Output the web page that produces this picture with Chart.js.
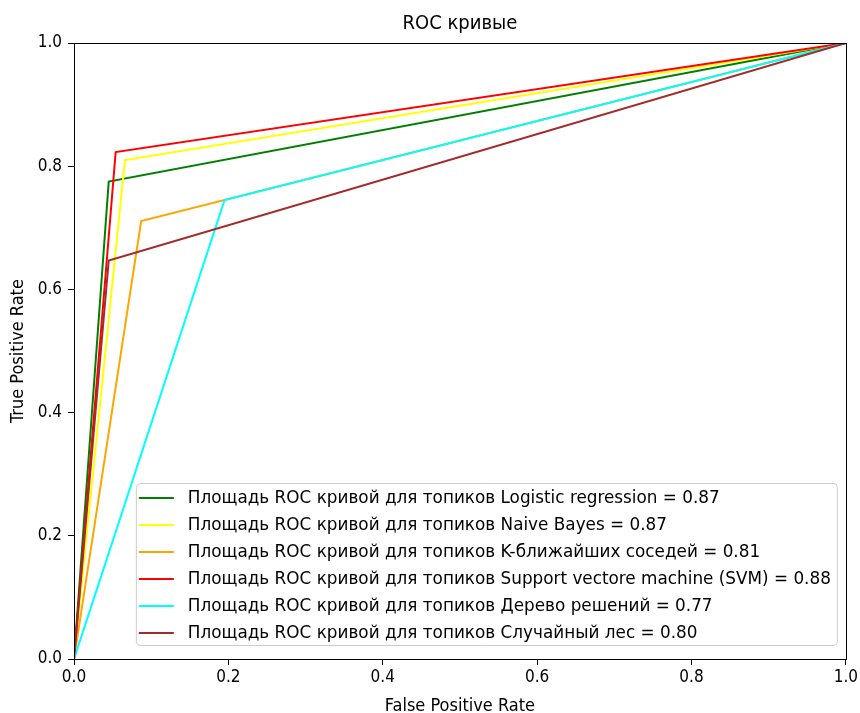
<!DOCTYPE html>
<html>
<head>
<meta charset="utf-8">
<script src="https://cdn.jsdelivr.net/npm/chart.js@4/dist/chart.umd.min.js"></script>
<style>
  body { margin: 0; background: #fff; }
  #wrap { width: 860px; height: 713px; }
</style>
</head>
<body>
<div id="wrap"><canvas id="roc"></canvas></div>
<script>
// model names and AUC values from the legend
const models = ["Logistic regression", "Naive Bayes", "K-ближайших соседей",
  "Support vectore machine (SVM)", "Дерево решений", "Случайный лес"];
const aucs = [0.87, 0.87, 0.81, 0.88, 0.77, 0.80];
const colors = ["#008000", "#ffff00", "#ffa500", "#ff0000", "#00ffff", "#a52a2a"];

// ROC points (fpr, tpr)
const fprLogReg = [0, 0.045, 1];
const tprLogReg = [0, 0.775, 1];
const fprBayes = [0, 0.066, 1];
const tprBayes = [0, 0.810, 1];
const fprKnn = [0, 0.087, 1];
const tprKnn = [0, 0.711, 1];
const fprSvm = [0, 0.054, 1];
const tprSvm = [0, 0.823, 1];
const fprTree = [0, 0.195, 1];
const tprTree = [0, 0.745, 1];
const fprForest = [0, 0.045, 1];
const tprForest = [0, 0.647, 1];

const fprs = [fprLogReg, fprBayes, fprKnn, fprSvm, fprTree, fprForest];
const tprs = [tprLogReg, tprBayes, tprKnn, tprSvm, tprTree, tprForest];

const FONT = "'DejaVu Sans Condensed', 'DejaVu Sans', sans-serif";

const datasets = models.map((m, i) => ({
  label: "Площадь ROC кривой для топиков " + m + " = " + aucs[i].toFixed(2),
  data: fprs[i].map((x, k) => ({ x: x, y: tprs[i][k] })),
  borderColor: colors[i],
  borderWidth: 2,
  pointRadius: 0,
  fill: false,
  tension: 0,
  order: models.length - i  // later series on top, like matplotlib
}));

// frame, title and legend box inside the plot (lower right)
const framePlugin = {
  id: "frame",
  afterDatasetsDraw(chart) {
    const ctx = chart.ctx, a = chart.chartArea;
    ctx.save();
    ctx.strokeStyle = "#000";
    ctx.lineWidth = 1;
    ctx.strokeRect(Math.round(a.left) + 0.5, Math.round(a.top) + 0.5,
      Math.round(a.right - a.left), Math.round(a.bottom - a.top));

    // title centred over the plot area
    ctx.fillStyle = "#000";
    ctx.font = "20px " + FONT;
    ctx.textAlign = "center";
    ctx.textBaseline = "alphabetic";
    ctx.fillText("ROC кривые", (a.left + a.right) / 2, a.top - 14);
    ctx.textAlign = "left";

    // legend
    const sets = chart.data.datasets;
    const right = a.right - 9, bottom = a.bottom - 14;
    const w = 701, rowH = 27, h = 162;
    const left = right - w, top = bottom - h;
    ctx.beginPath();
    ctx.roundRect(left + 0.5, top + 0.5, w, h, 4);
    ctx.fillStyle = "rgba(255,255,255,0.8)";
    ctx.fill();
    ctx.strokeStyle = "#cccccc";
    ctx.stroke();

    ctx.font = "18.5px " + FONT;
    let maxW = 0;
    sets.forEach(d => { maxW = Math.max(maxW, ctx.measureText(d.label).width); });
    const sx = Math.min(1.08, 643 / maxW);
    ctx.textBaseline = "middle";
    ctx.fillStyle = "#000";
    sets.forEach((d, i) => {
      const y = top + 15 + rowH * i;
      ctx.beginPath();
      ctx.moveTo(left + 3, y);
      ctx.lineTo(left + 38, y);
      ctx.strokeStyle = d.borderColor;
      ctx.lineWidth = 2;
      ctx.stroke();
      ctx.save();
      ctx.translate(left + 52, y);
      ctx.scale(sx, 1);
      ctx.fillText(d.label, 0, 0);
      ctx.restore();
    });
    ctx.restore();
  }
};

const tickFmt = v => Number(v).toFixed(1);

new Chart(document.getElementById("roc"), {
  type: "line",
  data: { datasets: datasets },
  options: {
    responsive: true,
    maintainAspectRatio: false,
    animation: false,
    layout: { padding: { left: 8, right: 12, top: 43, bottom: 0 } },
    plugins: {
      legend: { display: false },
      tooltip: { enabled: false },
      title: { display: false }
    },
    scales: {
      x: {
        type: "linear",
        min: 0, max: 1,
        afterFit: s => { s.height = 54; },
        ticks: { stepSize: 0.2, callback: tickFmt, color: "#000",
          font: { family: FONT, size: 17 }, padding: 2, maxRotation: 0 },
        grid: { drawOnChartArea: false, drawTicks: true, tickLength: 6, color: "#000" },
        border: { display: true, color: "#000" },
        title: { display: true, text: "False Positive Rate", color: "#000",
          font: { family: FONT, size: 18 }, padding: { top: 4, bottom: -4 } }
      },
      y: {
        type: "linear",
        min: 0, max: 1,
        afterFit: s => { s.width = 66; },
        ticks: { stepSize: 0.2, callback: tickFmt, color: "#000",
          font: { family: FONT, size: 17 }, padding: 6 },
        grid: { drawOnChartArea: false, drawTicks: true, tickLength: 6, color: "#000" },
        border: { display: true, color: "#000" },
        title: { display: true, text: "True Positive Rate", color: "#000",
          font: { family: FONT, size: 18 }, padding: { top: 0, bottom: 2 } }
      }
    }
  },
  plugins: [framePlugin]
});
</script>
</body>
</html>
